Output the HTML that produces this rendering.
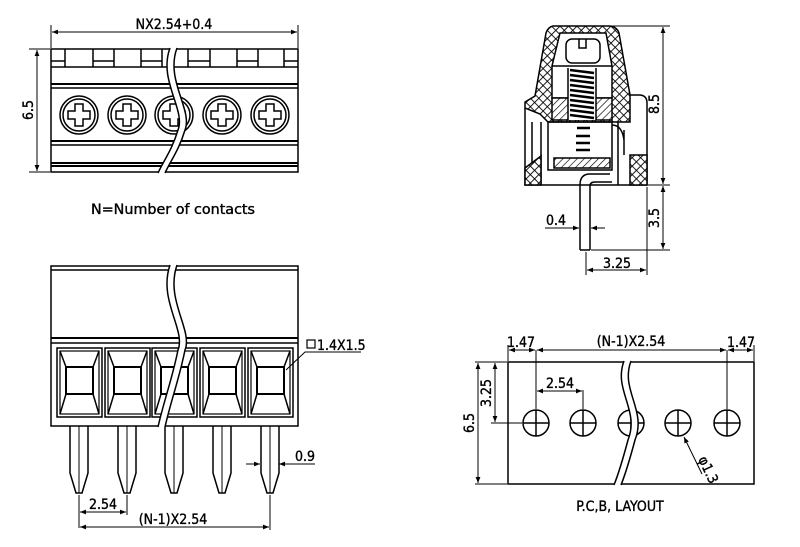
<!DOCTYPE html>
<html><head><meta charset="utf-8"><style>
html,body{margin:0;padding:0;background:#fff;}
svg{display:block;}
text{font-family:"DejaVu Sans Condensed","Liberation Sans Narrow","Liberation Sans",sans-serif;font-size:14px;fill:#000;stroke:#000;stroke-width:0.35;}
</style></head><body>
<svg width="800" height="547" viewBox="0 0 800 547" xmlns="http://www.w3.org/2000/svg">
<defs>
<pattern id="xh" width="6" height="6" patternUnits="userSpaceOnUse" patternTransform="rotate(45)">
<rect width="6" height="6" fill="#fff"/>
<path d="M0,0 H6 M0,0 V6" stroke="#000" stroke-width="1.8"/>
</pattern>
<pattern id="dh" width="5" height="5" patternUnits="userSpaceOnUse" patternTransform="rotate(45)">
<rect width="5" height="5" fill="#fff"/>
<path d="M0,0 V5" stroke="#000" stroke-width="1.3"/>
</pattern>
<marker id="ar" viewBox="0 0 10 10" refX="10" refY="5" markerWidth="8" markerHeight="6" orient="auto-start-reverse" markerUnits="userSpaceOnUse">
<path d="M0,1 L10,5 L0,9 Z" fill="#000"/>
</marker>
</defs>
<g fill="none" stroke="#000" stroke-width="1.5">

<!-- ===== TOP LEFT ===== -->
<line x1="51" y1="25" x2="51" y2="48" stroke-width="1"/>
<line x1="298" y1="25" x2="298" y2="48" stroke-width="1"/>
<line x1="52" y1="32" x2="297" y2="32" stroke-width="1" marker-start="url(#ar)" marker-end="url(#ar)"/>
<rect x="51" y="49" width="247" height="123" fill="none"/>
<line x1="51" y1="67" x2="298" y2="67"/>
<line x1="51" y1="84" x2="298" y2="84" stroke-width="2"/>
<line x1="51" y1="88" x2="298" y2="88"/>
<line x1="51" y1="141" x2="298" y2="141" stroke-width="2"/>
<line x1="51" y1="145" x2="298" y2="145"/>
<line x1="51" y1="163" x2="298" y2="163" stroke-width="2"/>
<line x1="51" y1="166" x2="298" y2="166" stroke-width="2"/>
<path d="M65,49 V67 M93,49 V67 M114,49 V67 M141,49 V67 M162,49 V67 M188,49 V67 M210,49 V67 M237,49 V67 M258,49 V67 M284,49 V67"/>
<path d="M51,61 H65 M93,61 H114 M141,61 H162 M188,61 H210 M237,61 H258 M284,61 H298"/>
<g id="scr" fill="none">
<circle cx="79" cy="115" r="19" fill="none"/>
<circle cx="79" cy="115" r="16" fill="none"/>
<path d="M75,104 H83 V111 H90 V119 H83 V126 H75 V119 H68 V111 H75 Z" fill="none"/>
</g>
<use href="#scr" x="48"/><use href="#scr" x="95"/><use href="#scr" x="143"/><use href="#scr" x="191"/>
<path d="M170,48 C158,80 186,110 178,130 C172,150 164,160 158,173 L165,173 C171,160 179,150 185,130 C193,110 165,80 177,48 Z" fill="#fff" stroke="none"/>
<path d="M170,48 C158,80 186,110 178,130 C172,150 164,160 158,173"/>
<path d="M177,48 C165,80 193,110 185,130 C179,150 171,160 165,173"/>
<line x1="29" y1="49" x2="50" y2="49" stroke-width="1"/>
<line x1="29" y1="172" x2="50" y2="172" stroke-width="1"/>
<line x1="37" y1="50" x2="37" y2="171" stroke-width="1" marker-start="url(#ar)" marker-end="url(#ar)"/>

<!-- ===== TOP RIGHT ===== -->
<path d="M553,26 L610,26 Q617,27 619,33 L630,95 L630,122 L548,122 L540,114 L525,108 L525,102 L535,96 L546,33 Q548,27 553,26 Z" fill="url(#xh)"/>
<path d="M560,33 L606,33 L612,66 L612,98 L552,98 L552,66 Z" fill="#fff"/>
<rect x="552" y="98" width="60" height="22" fill="url(#dh)"/>
<rect x="568" y="68" width="28" height="52" fill="#fff" stroke="none"/>
<path d="M552,66 H612"/>
<rect x="566" y="39" width="34" height="24" rx="6" fill="#fff"/>
<path d="M579,39 V48 H586 V39"/>
<path d="M570,70 L594,73 M570,75 L594,78 M570,80 L594,83 M570,85 L594,88 M570,90 L594,93 M570,95 L594,98 M570,100 L594,103 M570,105 L594,108 M570,110 L594,113 M570,115 L594,118" stroke-width="2.5"/>
<path d="M568,68 V120 M596,68 V120"/>
<path d="M577,128 H590 M576,136 H590 M576,143 H590 M576,150 H590" stroke-width="2.5"/>
<rect x="548" y="122" width="64" height="48" fill="none"/>
<rect x="554" y="158" width="56" height="10" fill="url(#dh)"/>
<path d="M525,108 V185 H647 V103 Q647,95 639,95 H630"/>
<path d="M532,122 V185 M541,122 V185"/>
<path d="M525,168 L541,156 L541,185 L525,185 Z" fill="url(#xh)"/>
<rect x="630" y="155" width="17" height="30" fill="url(#xh)"/>
<path d="M618,122 V185 M624,130 V155 M612,125 Q622,125 624,140"/>
<path d="M580,250 V185 Q580,174 590,174 H610 M590,250 V186 Q590,182 595,182 H612 M580,250 H590"/>
<line x1="611" y1="26" x2="670" y2="26" stroke-width="1"/>
<line x1="648" y1="185" x2="670" y2="185" stroke-width="1"/>
<line x1="591" y1="250" x2="670" y2="250" stroke-width="1"/>
<line x1="663" y1="27" x2="663" y2="184" stroke-width="1" marker-start="url(#ar)" marker-end="url(#ar)"/>
<line x1="663" y1="186" x2="663" y2="249" stroke-width="1" marker-start="url(#ar)" marker-end="url(#ar)"/>
<path d="M586,252 V275 M647,187 V275" stroke-width="1"/>
<line x1="587" y1="270" x2="646" y2="270" stroke-width="1" marker-start="url(#ar)" marker-end="url(#ar)"/>
<line x1="545" y1="228" x2="579" y2="228" stroke-width="1" marker-end="url(#ar)"/>
<line x1="605" y1="228" x2="591" y2="228" stroke-width="1" marker-end="url(#ar)"/>

<!-- ===== BOTTOM LEFT ===== -->
<rect x="51" y="266" width="247" height="160" fill="none"/>
<line x1="51" y1="270" x2="298" y2="270"/>
<line x1="51" y1="338" x2="298" y2="338" stroke-width="2"/>
<line x1="51" y1="343" x2="298" y2="343"/>
<g id="cell" fill="none">
<rect x="57" y="348" width="45" height="69" fill="none"/>
<rect x="60" y="351" width="39" height="63" fill="none" stroke-width="1.2"/>
<rect x="66" y="367" width="27" height="27" fill="none" stroke-width="2"/>
<path d="M60,351 L66,367 M99,351 L93,367 M60,414 L66,394 M99,414 L93,394" fill="none"/>
</g>
<use href="#cell" x="48"/><use href="#cell" x="95"/><use href="#cell" x="143"/><use href="#cell" x="191"/>
<g id="pin" fill="none">
<path d="M70,426 V473 L76,493 H82 L88,473 V426" fill="none"/>
<path d="M79,426 V493" stroke-width="1"/>
</g>
<use href="#pin" x="48"/><use href="#pin" x="95"/><use href="#pin" x="143"/><use href="#pin" x="191"/>
<path d="M170,265 C158,300 186,330 178,350 C172,380 164,400 158,427 L165,427 C171,400 179,380 185,350 C193,330 165,300 177,265 Z" fill="#fff" stroke="none"/>
<path d="M170,265 C158,300 186,330 178,350 C172,380 164,400 158,427"/>
<path d="M177,265 C165,300 193,330 185,350 C179,380 171,400 165,427"/>
<path d="M79,495 V528 M127,495 V515 M270,495 V530" stroke-width="1"/>
<line x1="80" y1="512" x2="126" y2="512" stroke-width="1" marker-start="url(#ar)" marker-end="url(#ar)"/>
<line x1="80" y1="527" x2="269" y2="527" stroke-width="1" marker-start="url(#ar)" marker-end="url(#ar)"/>
<line x1="246" y1="464" x2="260" y2="464" stroke-width="1" marker-end="url(#ar)"/>
<line x1="300" y1="464" x2="279" y2="464" stroke-width="1" marker-end="url(#ar)"/>
<line x1="294" y1="464" x2="315" y2="464" stroke-width="1"/>
<path d="M286,370 L305,352 H361" stroke-width="1"/>
<rect x="307" y="340" width="8" height="8" stroke-width="1.2" fill="none"/>

<!-- ===== BOTTOM RIGHT ===== -->
<rect x="508" y="362" width="246" height="122" fill="none"/>
<g id="hole" fill="none">
<circle cx="536" cy="423" r="13" fill="none"/>
<path d="M523,423 H549 M536,410 V436"/>
</g>
<use href="#hole" x="47"/><use href="#hole" x="95"/><use href="#hole" x="142"/><use href="#hole" x="191"/>
<path d="M624,361 C613,390 640,410 628,440 C624,455 620,470 614,485 L621,485 C627,470 631,455 635,440 C647,410 620,390 631,361 Z" fill="#fff" stroke="none"/>
<path d="M624,361 C613,390 640,410 628,440 C624,455 620,470 614,485"/>
<path d="M631,361 C620,390 647,410 635,440 C631,455 627,470 621,485"/>
<path d="M508,345 V361 M754,345 V361 M536,350 V409 M727,350 V409 M583,390 V409" stroke-width="1"/>
<line x1="509" y1="350" x2="535" y2="350" stroke-width="1" marker-start="url(#ar)" marker-end="url(#ar)"/>
<line x1="537" y1="350" x2="726" y2="350" stroke-width="1" marker-start="url(#ar)" marker-end="url(#ar)"/>
<line x1="728" y1="350" x2="753" y2="350" stroke-width="1" marker-start="url(#ar)" marker-end="url(#ar)"/>
<line x1="537" y1="391" x2="582" y2="391" stroke-width="1" marker-start="url(#ar)" marker-end="url(#ar)"/>
<path d="M475,362 H507 M475,484 H507 M491,423 H522" stroke-width="1"/>
<line x1="478" y1="363" x2="478" y2="483" stroke-width="1" marker-start="url(#ar)" marker-end="url(#ar)"/>
<line x1="495" y1="363" x2="495" y2="422" stroke-width="1" marker-start="url(#ar)" marker-end="url(#ar)"/>
<line x1="702" y1="474" x2="684" y2="437" stroke-width="1" marker-end="url(#ar)"/>
</g>

<!-- TEXT -->
<text x="174" y="29" text-anchor="middle" font-size="13">NX2.54+0.4</text>
<text transform="translate(33,110) rotate(-90)" text-anchor="middle" font-size="13">6.5</text>
<text x="173" y="214" text-anchor="middle" font-size="15" textLength="164" lengthAdjust="spacingAndGlyphs">N=Number of contacts</text>
<text transform="translate(659,104) rotate(-90)" text-anchor="middle" font-size="13">8.5</text>
<text transform="translate(659,218) rotate(-90)" text-anchor="middle" font-size="13">3.5</text>
<text x="556" y="225" text-anchor="middle" font-size="13">0.4</text>
<text x="617" y="268" text-anchor="middle" font-size="13">3.25</text>
<text x="317" y="350" font-size="13">1.4X1.5</text>
<text x="305" y="461" text-anchor="middle" font-size="13">0.9</text>
<text x="103" y="509" text-anchor="middle" font-size="13">2.54</text>
<text x="173" y="524" text-anchor="middle" font-size="13">(N-1)X2.54</text>
<text x="521" y="347" text-anchor="middle" font-size="13">1.47</text>
<text x="631" y="346" text-anchor="middle" font-size="13">(N-1)X2.54</text>
<text x="741" y="347" text-anchor="middle" font-size="13">1.47</text>
<text x="560" y="388" text-anchor="middle" font-size="13">2.54</text>
<text transform="translate(474,423) rotate(-90)" text-anchor="middle" font-size="13">6.5</text>
<text transform="translate(491,393) rotate(-90)" text-anchor="middle" font-size="13">3.25</text>
<text transform="translate(698,459) rotate(65)" font-size="12">φ1.3</text>
<text x="620" y="511" text-anchor="middle" font-size="15">P.C,B, LAYOUT</text>
</svg>
</body></html>
